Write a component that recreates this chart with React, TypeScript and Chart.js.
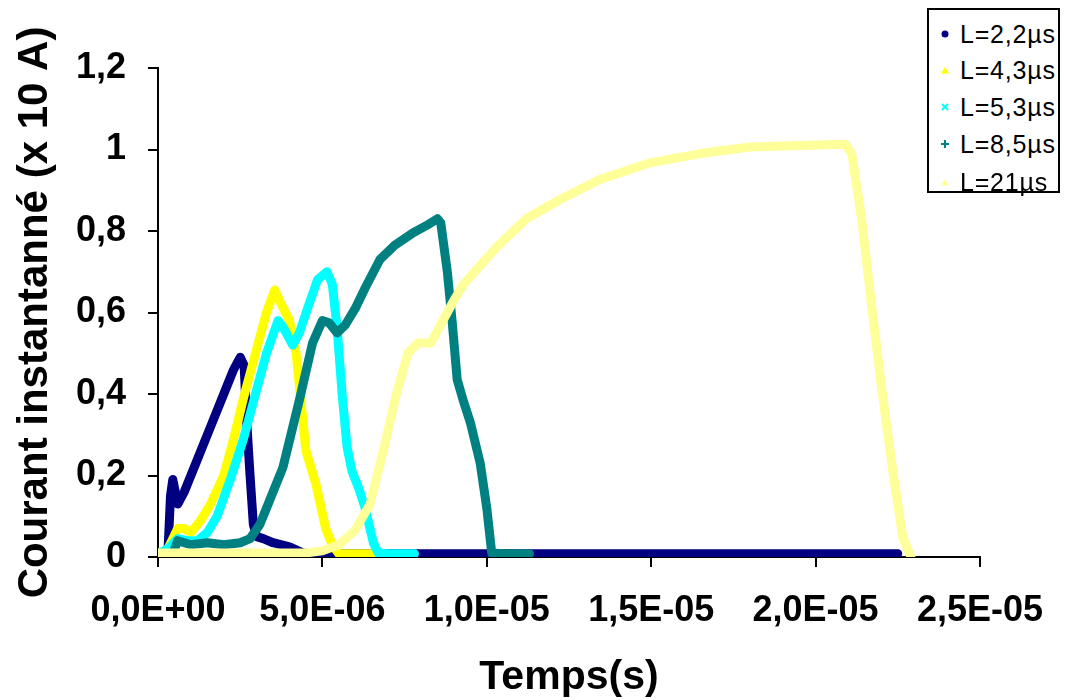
import React, { useEffect, useRef } from "react";
import { Chart, registerables } from "chart.js";

Chart.register(...registerables);

// Time in microseconds, current in (x 10 A)
const seriesLabels = ["L=2,2µs", "L=4,3µs", "L=5,3µs", "L=8,5µs", "L=21µs"];
const seriesColors = ["#000080", "#FFFF00", "#00FFFF", "#008080", "#FFFF99"];

const tNavy = [0.3, 0.38, 0.45, 0.6, 0.8, 1.2, 1.6, 2.0, 2.3, 2.5, 2.62, 2.7, 2.8, 2.9, 3.0, 3.2, 3.5, 4.0, 4.4, 4.6, 10, 15, 20, 22.5];
const yNavy = [0.008, 0.15, 0.19, 0.13, 0.16, 0.24, 0.32, 0.4, 0.46, 0.49, 0.47, 0.33, 0.2, 0.08, 0.05, 0.045, 0.035, 0.025, 0.01, 0.008, 0.008, 0.008, 0.008, 0.008];

const tYellow = [0, 0.3, 0.6, 0.8, 1.0, 1.3, 1.6, 2.0, 2.3, 2.6, 3.0, 3.3, 3.55, 3.75, 4.0, 4.2, 4.4, 4.5, 4.8, 5.1, 5.3, 5.5, 6.6];
const yYellow = [0.008, 0.02, 0.07, 0.07, 0.06, 0.09, 0.13, 0.2, 0.29, 0.39, 0.51, 0.6, 0.655, 0.62, 0.58, 0.5, 0.34, 0.26, 0.18, 0.07, 0.03, 0.008, 0.008];

const tCyan = [0, 0.3, 0.6, 0.9, 1.2, 1.5, 1.8, 2.2, 2.6, 3.0, 3.3, 3.65, 3.8, 4.1, 4.3, 4.55, 4.85, 5.14, 5.3, 5.45, 5.6, 5.75, 5.9, 6.1, 6.3, 6.55, 6.7, 7.0, 7.8];
const yCyan = [0.008, 0.02, 0.045, 0.04, 0.04, 0.06, 0.1, 0.19, 0.29, 0.41, 0.5, 0.58, 0.565, 0.52, 0.55, 0.61, 0.68, 0.7, 0.67, 0.56, 0.4, 0.27, 0.21, 0.17, 0.12, 0.035, 0.01, 0.008, 0.008];

const tTeal = [0.45, 0.6, 1.0, 1.5, 2.0, 2.5, 2.8, 3.1, 3.4, 3.8, 4.3, 4.7, 5.0, 5.2, 5.45, 5.7, 6.0, 6.3, 6.75, 7.2, 7.75, 8.2, 8.5, 8.6, 8.8, 8.95, 9.1, 9.3, 9.5, 9.8, 10.0, 10.15, 10.5, 11.3];
const yTeal = [0.008, 0.04, 0.03, 0.035, 0.03, 0.035, 0.045, 0.08, 0.14, 0.22, 0.385, 0.525, 0.58, 0.575, 0.55, 0.57, 0.61, 0.66, 0.73, 0.765, 0.795, 0.815, 0.83, 0.82, 0.7, 0.575, 0.435, 0.38, 0.33, 0.23, 0.12, 0.01, 0.008, 0.008];

const tLight = [0, 2, 4, 4.5, 5.0, 5.5, 6.0, 6.45, 6.85, 7.25, 7.6, 7.9, 8.3, 8.6, 9.0, 9.3, 10.3, 11.2, 12.2, 13.4, 14.95, 16.5, 18.0, 19.5, 20.9, 21.1, 21.4, 21.7, 22.0, 22.35, 22.65, 22.9];
const yLight = [0.01, 0.01, 0.01, 0.01, 0.015, 0.03, 0.066, 0.13, 0.26, 0.4, 0.5, 0.525, 0.525, 0.57, 0.63, 0.67, 0.76, 0.83, 0.876, 0.925, 0.967, 0.99, 1.006, 1.01, 1.013, 0.99, 0.83, 0.62, 0.42, 0.21, 0.05, 0.0];

const seriesT = [tNavy, tYellow, tCyan, tTeal, tLight];
const seriesY = [yNavy, yYellow, yCyan, yTeal, yLight];

const xTickMin = 0;
const xTickMax = 2.5e-5;
const xTickStep = 5e-6;
const yTickMin = 0;
const yTickMax = 1.2;
const yTickStep = 0.2;

const xTitle = "Temps(s)";
const yTitle = "Courant instantanné (x 10 A)";

const FONT = "'Liberation Sans', Arial, sans-serif";

function fmtSci(v: number): string {
  if (Math.abs(v) < 1e-12) return "0,0E+00";
  const [m, e] = v.toExponential(1).split("e");
  const n = parseInt(e, 10);
  return m.replace(".", ",") + "E" + (n < 0 ? "-" : "+") + String(Math.abs(n)).padStart(2, "0");
}

function fmtY(v: number): string {
  const r = Math.round(v * 10) / 10;
  return String(r).replace(".", ",");
}

function Marker({ i }: { i: number }) {
  const c = seriesColors[i];
  let shape: React.ReactNode = null;
  if (i === 0) shape = <circle cx={5} cy={5} r={3.5} fill={c} />;
  else if (i === 1 || i === 4) shape = <polygon points="1,8.5 9,8.5 5,2" fill={c} />;
  else if (i === 2)
    shape = (
      <g stroke={c} strokeWidth={2}>
        <line x1={2} y1={2} x2={8} y2={8} />
        <line x1={8} y1={2} x2={2} y2={8} />
      </g>
    );
  else
    shape = (
      <g stroke={c} strokeWidth={2}>
        <line x1={5} y1={1} x2={5} y2={9} />
        <line x1={1} y1={5} x2={9} y2={5} />
      </g>
    );
  return (
    <svg width={10} height={10} style={{ position: "absolute", left: 11, top: 13 }}>
      {shape}
    </svg>
  );
}

export default function App() {
  const ref = useRef<HTMLCanvasElement | null>(null);

  useEffect(() => {
    if (!ref.current) return;
    const datasets = seriesLabels.map((label, i) => ({
      label,
      data: seriesT[i].map((t, k) => ({ x: t * 1e-6, y: seriesY[i][k] })),
      borderColor: seriesColors[i],
      backgroundColor: seriesColors[i],
      borderWidth: 9,
      pointRadius: 0,
      tension: 0,
      fill: false,
      borderJoinStyle: "round" as const,
      borderCapStyle: "round" as const,
      order: seriesLabels.length - 1 - i,
    }));

    const chart = new Chart(ref.current, {
      type: "line",
      data: { datasets },
      options: {
        animation: false,
        responsive: false,
        maintainAspectRatio: false,
        layout: { padding: { left: 0, top: 68, right: 85, bottom: 0 } },
        plugins: { legend: { display: false }, tooltip: { enabled: false } },
        scales: {
          x: {
            type: "linear",
            min: xTickMin,
            max: xTickMax,
            afterFit: (s: any) => {
              s.height = 143;
            },
            ticks: {
              stepSize: xTickStep,
              autoSkip: false,
              maxRotation: 0,
              minRotation: 0,
              padding: 22,
              color: "#000",
              font: { family: FONT, size: 36, weight: "bold" },
              callback: (v: any) => fmtSci(Number(v)),
            },
            grid: { drawOnChartArea: false, drawTicks: true, tickLength: 10, color: "#000", lineWidth: 2 },
            border: { display: true, color: "#000", width: 2 },
            title: {
              display: true,
              text: xTitle,
              color: "#000",
              font: { family: FONT, size: 41, weight: "bold", lineHeight: 1.1 },
              padding: { top: 0, bottom: 0 },
            },
          },
          y: {
            type: "linear",
            min: yTickMin,
            max: yTickMax,
            afterFit: (s: any) => {
              s.width = 158;
            },
            ticks: {
              stepSize: yTickStep,
              padding: 22,
              color: "#000",
              font: { family: FONT, size: 36, weight: "bold" },
              callback: (v: any) => fmtY(Number(v)),
            },
            grid: { drawOnChartArea: false, drawTicks: true, tickLength: 10, color: "#000", lineWidth: 2 },
            border: { display: true, color: "#000", width: 2 },
            title: {
              display: true,
              text: yTitle,
              color: "#000",
              font: { family: FONT, size: 42, weight: "bold", lineHeight: 1.2 },
              padding: { top: 10, bottom: 0 },
            },
          },
        },
      },
    });
    return () => chart.destroy();
  }, []);

  const entryCenters = [32, 68, 105, 142, 180];

  return (
    <div style={{ position: "absolute", left: 0, top: 0, width: 1065, height: 700, background: "#fff" }}>
      <canvas ref={ref} width={1065} height={700} style={{ position: "absolute", left: 0, top: 0 }} />
      <div
        style={{
          position: "absolute",
          left: 927,
          top: 8,
          width: 133,
          height: 185,
          border: "2px solid #000",
          boxSizing: "border-box",
          background: "#fff",
        }}
      >
        {seriesLabels.map((lab, i) => (
          <div
            key={lab}
            style={{
              position: "absolute",
              left: 0,
              top: entryCenters[i] - 8 - 18,
              height: 36,
              width: 131,
            }}
          >
            <Marker i={i} />
            <span
              style={{
                position: "absolute",
                left: 31,
                top: 0,
                lineHeight: "36px",
                fontFamily: FONT,
                fontSize: 25,
                letterSpacing: 0.8,
                color: "#000",
                whiteSpace: "nowrap",
              }}
            >
              {lab}
            </span>
          </div>
        ))}
      </div>
    </div>
  );
}
